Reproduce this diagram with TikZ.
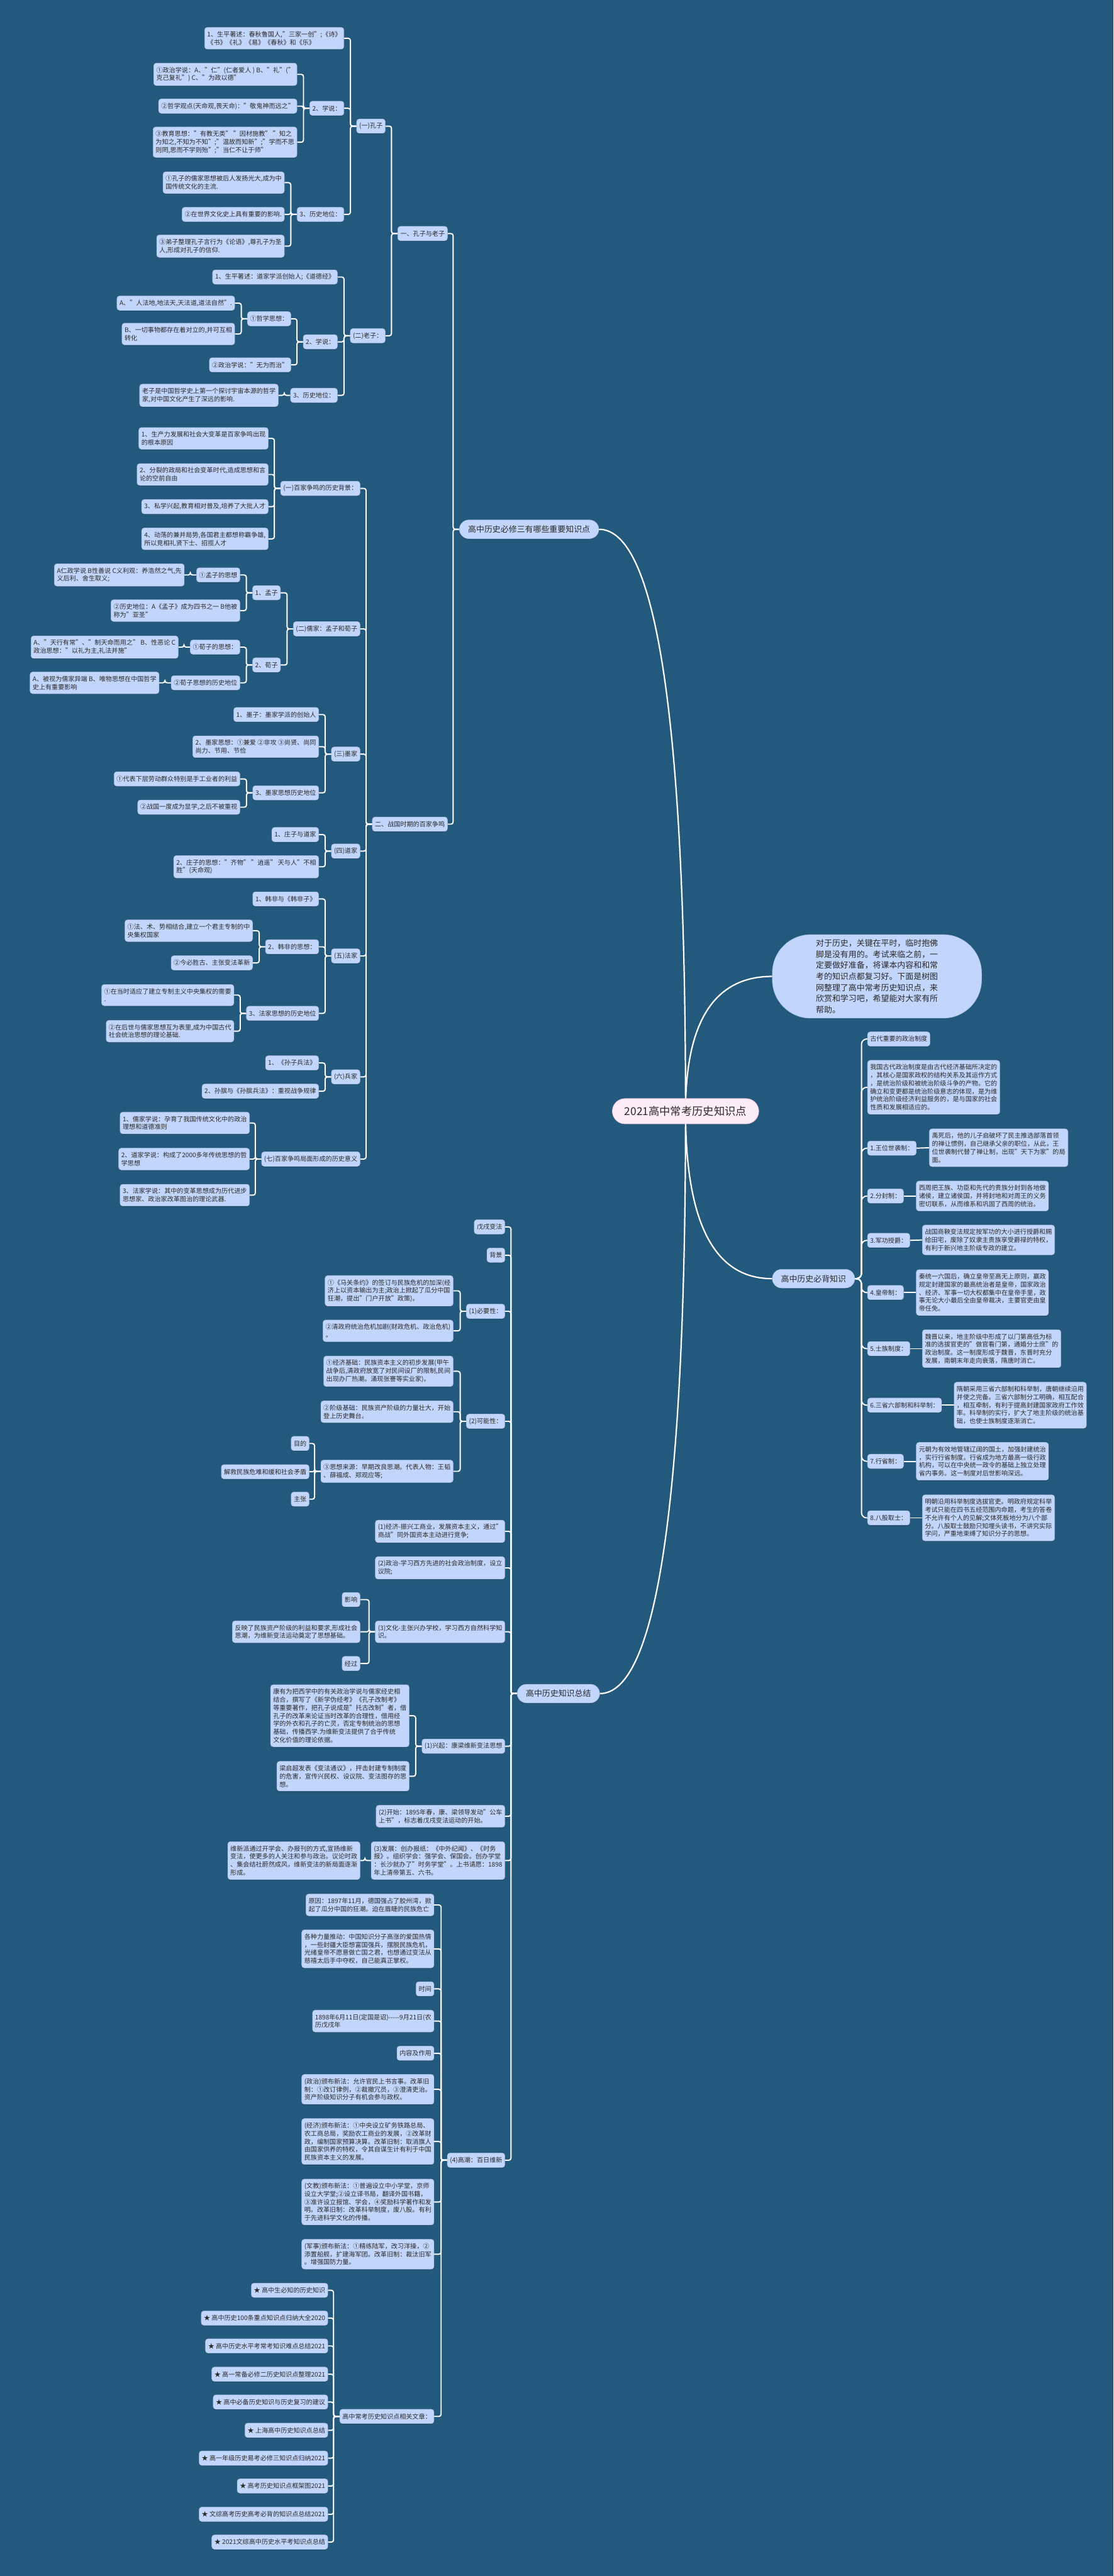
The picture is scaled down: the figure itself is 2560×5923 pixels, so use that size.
\documentclass[tikz,border=0pt]{standalone}
\usepackage{fontspec}
\setmainfont{Noto Sans CJK SC}
\usetikzlibrary{backgrounds,shadows}
\definecolor{bgc}{HTML}{23597C}
\definecolor{nfill}{HTML}{C2D5FB}
\definecolor{nline}{HTML}{A6BEEA}
\definecolor{txt}{HTML}{2A2A2A}
\definecolor{rfill}{HTML}{FDEDF7}
\definecolor{rline}{HTML}{F2C2DD}
\begin{document}
\begin{tikzpicture}[x=0.5pt,y=-0.5pt,
  leaf/.style={draw=nline, line width=0.4pt, fill=nfill, rounded corners=3pt, inner xsep=3pt, inner ysep=4.5pt, minimum height=16.5pt, font=\fontsize{7.3pt}{9.25pt}\selectfont, text=txt, align=left, general shadow={fill=black, opacity=0.22, shadow yshift=-0.8pt}},
  big/.style={draw=nline, line width=0.4pt, fill=nfill, rounded corners=10.75pt, inner xsep=10pt, minimum height=21.5pt, font=\fontsize{9.35pt}{12pt}\selectfont, text=txt, general shadow={fill=black, opacity=0.22, shadow yshift=-0.8pt}},
  conn/.style={draw=white, line width=1.4pt, rounded corners=2.5pt},
  curve/.style={draw=white, line width=1.6pt}
]
\useasboundingbox (0,0) rectangle (2560,5923);
% root
\node[draw=rline, line width=0.6pt, fill=rfill, rounded corners=14.5pt, inner xsep=14pt, minimum height=29pt, font=\fontsize{12.5pt}{14pt}\selectfont, text=txt] (root) at (1576,2555) {2021高中常考历史知识点};
\node[draw=nline, line width=0.4pt, fill=nfill, rounded corners=44pt, minimum width=240.5pt, minimum height=96pt, align=left, font=\fontsize{9.35pt}{12.75pt}\selectfont, text=txt] (bub) at (2016,2245) {对于历史，关键在平时，临时抱佛\\脚是没有用的。考试来临之前，一\\定要做好准备，将课本内容和和常\\考的知识点都复习好。下面是树图\\网整理了高中常考历史知识点，来\\欣赏和学习吧，希望能对大家有所\\帮助。};
\node[big, anchor=east] (m3) at (1377,1217) {高中历史必修三有哪些重要知识点};
\node[big, anchor=east] (zj) at (1379,3894) {高中历史知识总结};
\node[big, anchor=west] (bb) at (1775,2940) {高中历史必背知识};
% ---------- 必修三 ----------
\node[leaf, anchor=east] (a1) at (1029,537) {一、孔子与老子};
\node[leaf, anchor=east] (a2) at (1029,1895) {二、战国时期的百家争鸣};
\node[leaf, anchor=east] (b1) at (886,290) {(一)孔子};
\node[leaf, anchor=east] (b2) at (886,772) {(二)老子：};
\node[leaf, anchor=east] (c1) at (791,88) {1、生平著述：春秋鲁国人,"三家一创";《诗》\\《书》《礼》《易》《春秋》和《乐》};
\node[leaf, anchor=east] (c2) at (791,249) {2、学说：};
\node[leaf, anchor=east] (c3) at (791,493) {3、历史地位：};
\node[leaf, anchor=east] (d1) at (683,171) {①政治学说：A、"仁"(仁者爱人 ) B、"礼"("\\克己复礼") C、"为政以德"};
\node[leaf, anchor=east] (d2) at (683,244) {②哲学观点(天命观,畏天命)："敬鬼神而远之"};
\node[leaf, anchor=east] (d3) at (683,327) {③教育思想："有教无类" "因材施教" "知之\\为知之,不知为不知";"温故而知新";"学而不思\\则罔,思而不学则殆";"当仁不让于师"};
\node[leaf, anchor=east] (e1) at (654,420) {①孔子的儒家思想被后人发扬光大,成为中\\国传统文化的主流.};
\node[leaf, anchor=east] (e2) at (654,493) {②在世界文化史上具有重要的影响.};
\node[leaf, anchor=east] (e3) at (654,566) {③弟子整理孔子言行为《论语》,尊孔子为圣\\人,形成对孔子的信仰.};
\node[leaf, anchor=east] (f1) at (776,637) {1、生平著述：道家学派创始人;《道德经》};
\node[leaf, anchor=east] (f2) at (776,786) {2、学说：};
\node[leaf, anchor=east] (f3) at (776,909) {3、历史地位：};
\node[leaf, anchor=east] (g1) at (669,733) {①哲学思想：};
\node[leaf, anchor=east] (g2) at (669,839) {②政治学说："无为而治"};
\node[leaf, anchor=east] (h1) at (540,697) {A、"人法地,地法天,天法道,道法自然".};
\node[leaf, anchor=east] (h2) at (540,768) {B、一切事物都存在着对立的,并可互相\\转化};
\node[leaf, anchor=east] (i1) at (640,909) {老子是中国哲学史上第一个探讨宇宙本源的哲学\\家,对中国文化产生了深远的影响.};
% 百家争鸣
\node[leaf, anchor=east] (p1) at (828,1123) {(一)百家争鸣的历史背景：};
\node[leaf, anchor=east] (p2) at (828,1446) {(二)儒家：孟子和荀子};
\node[leaf, anchor=east] (p3) at (828,1734) {(三)墨家};
\node[leaf, anchor=east] (p4) at (828,1957) {(四)道家};
\node[leaf, anchor=east] (p5) at (828,2198) {(五)法家};
\node[leaf, anchor=east] (p6) at (828,2476) {(六)兵家};
\node[leaf, anchor=east] (p7) at (828,2665) {(七)百家争鸣局面形成的历史意义};
\node[leaf, anchor=east] (p1a) at (617,1008) {1、生产力发展和社会大变革是百家争鸣出现\\的根本原因};
\node[leaf, anchor=east] (p1b) at (617,1091) {2、分裂的政局和社会变革时代,造成思想和言\\论的空前自由};
\node[leaf, anchor=east] (p1c) at (617,1165) {3、私学兴起,教育相对普及,培养了大批人才};
\node[leaf, anchor=east] (p1d) at (617,1239) {4、动荡的兼并局势,各国君主都想称霸争雄,\\所以竞相礼贤下士、招揽人才};
\node[leaf, anchor=east] (mz) at (645,1363) {1、孟子};
\node[leaf, anchor=east] (xz) at (645,1529) {2、荀子};
\node[leaf, anchor=east] (mz1) at (552,1322) {①孟子的思想};
\node[leaf, anchor=east] (mz2) at (552,1404) {②历史地位：A《孟子》成为四书之一 B他被\\称为"亚圣"};
\node[leaf, anchor=east] (mz1a) at (424,1322) {A仁政学说 B性善说 C义利观：养浩然之气,先\\义后利、舍生取义;};
\node[leaf, anchor=east] (xz1) at (552,1488) {①荀子的思想：};
\node[leaf, anchor=east] (xz2) at (552,1570) {②荀子思想的历史地位};
\node[leaf, anchor=east] (xz1a) at (410,1488) {A、"天行有常"、"制天命而用之" B、性恶论 C\\政治思想："以礼为主,礼法并施"};
\node[leaf, anchor=east] (xz2a) at (366,1570) {A、被视为儒家异端 B、唯物思想在中国哲学\\史上有重要影响};
\node[leaf, anchor=east] (mo1) at (733,1643) {1、墨子：墨家学派的创始人};
\node[leaf, anchor=east] (mo2) at (733,1717) {2、墨家思想：①兼爱 ②非攻 ③尚贤、尚同\\尚力、节用、节俭};
\node[leaf, anchor=east] (mo3) at (733,1823) {3、墨家思想历史地位};
\node[leaf, anchor=east] (mo3a) at (552,1791) {①代表下层劳动群众特别是手工业者的利益};
\node[leaf, anchor=east] (mo3b) at (552,1856) {②战国一度成为显学,之后不被重视};
\node[leaf, anchor=east] (dj1) at (733,1919) {1、庄子与道家};
\node[leaf, anchor=east] (dj2) at (733,1993) {2、庄子的思想："齐物" "逍遥" 天与人"不相\\胜"(天命观)};
\node[leaf, anchor=east] (fj1) at (733,2067) {1、韩非与《韩非子》};
\node[leaf, anchor=east] (fj2) at (733,2177) {2、韩非的思想：};
\node[leaf, anchor=east] (fj3) at (733,2330) {3、法家思想的历史地位};
\node[leaf, anchor=east] (fj2a) at (581,2140) {①法、术、势相结合,建立一个君主专制的中\\央集权国家};
\node[leaf, anchor=east] (fj2b) at (581,2214) {②今必胜古、主张变法革新};
\node[leaf, anchor=east] (fj3a) at (538,2288) {①在当时适应了建立专制主义中央集权的需要\\.};
\node[leaf, anchor=east] (fj3b) at (538,2371) {②在后世与儒家思想互为表里,成为中国古代\\社会统治思想的理论基础.};
\node[leaf, anchor=east] (bj1) at (733,2444) {1、《孙子兵法》};
\node[leaf, anchor=east] (bj2) at (733,2509) {2、孙膑与《孙膑兵法》：重视战争规律};
\node[leaf, anchor=east] (yy1) at (574,2582) {1、儒家学说：孕育了我国传统文化中的政治\\理想和道德准则};
\node[leaf, anchor=east] (yy2) at (574,2665) {2、道家学说：构成了2000多年传统思想的哲\\学思想};
\node[leaf, anchor=east] (yy3) at (574,2748) {3、法家学说：其中的变革思想成为历代进步\\思想家、政治家改革图治的理论武器.};
% ---------- 知识总结 ----------
\node[leaf, anchor=east] (w1) at (1161,2821) {戊戌变法};
\node[leaf, anchor=east] (w2) at (1161,2886) {背景};
\node[leaf, anchor=east] (nec) at (1161,3015) {(1)必要性：};
\node[leaf, anchor=east] (pos) at (1161,3268) {(2)可能性：};
\node[leaf, anchor=east] (jjx) at (1161,3521) {(1)经济-振兴工商业，发展资本主义，通过"\\商战"同外国资本主动进行竞争;};
\node[leaf, anchor=east] (zzx) at (1161,3605) {(2)政治-学习西方先进的社会政治制度，设立\\议院;};
\node[leaf, anchor=east] (whx) at (1161,3752) {(3)文化-主张兴办学校，学习西方自然科学知\\识。};
\node[leaf, anchor=east] (xq) at (1161,4015) {(1)兴起：康梁维新变法思想};
\node[leaf, anchor=east] (ks) at (1161,4176) {(2)开始：1895年春，康、梁领导发动"公车\\上书"，标志着戊戌变法运动的开始。};
\node[leaf, anchor=east] (fz) at (1161,4278) {(3)发展：创办报纸：《中外纪闻》、《时务\\报》。组织学会：强学会、保国会。创办学堂\\：长沙就办了"时务学堂"。上书请愿：1898\\年上清帝第五、六书。};
\node[leaf, anchor=east] (gc) at (1161,4967) {(4)高潮：百日维新};
\node[leaf, anchor=east] (nec1) at (1042,2968) {①《马关条约》的签订与民族危机的加深(经\\济上以资本输出为主;政治上掀起了瓜分中国\\狂潮，提出"门户开放"政策)。};
\node[leaf, anchor=east] (nec2) at (1042,3060) {②清政府统治危机加剧(财政危机、政治危机)\\。};
\node[leaf, anchor=east] (pos1) at (1042,3153) {①经济基础：民族资本主义的初步发展(甲午\\战争后,清政府放宽了对民间设厂的限制,民间\\出现办厂热潮。涌现张謇等实业家)。};
\node[leaf, anchor=east] (pos2) at (1042,3246) {②阶级基础：民族资产阶级的力量壮大，开始\\登上历史舞台。};
\node[leaf, anchor=east] (pos3) at (1042,3383) {③思想来源：早期改良思潮。代表人物：王韬\\、薛福成、郑观应等;};
\node[leaf, anchor=east] (md) at (711,3319) {目的};
\node[leaf, anchor=east] (jj) at (711,3384) {解救民族危难和缓和社会矛盾};
\node[leaf, anchor=east] (zz) at (711,3447) {主张};
\node[leaf, anchor=east] (yx) at (828,3678) {影响};
\node[leaf, anchor=east] (fy) at (828,3752) {反映了民族资产阶级的利益和要求,形成社会\\思潮，为维新变法运动奠定了思想基础。};
\node[leaf, anchor=east] (jg) at (828,3825) {经过};
\node[leaf, anchor=east] (kyw) at (941,3945) {康有为把西学中的有关政治学说与儒家经史相\\结合，撰写了《新学伪经考》《孔子改制考》\\等重要著作，把孔子说成是"托古改制"者，借\\孔子的改革来论证当时改革的合理性，借用经\\学的外衣和孔子的亡灵，否定专制统治的思想\\基础，传播西学.为维新变法提供了合乎传统\\文化价值的理论依据。};
\node[leaf, anchor=east] (lqc) at (941,4084) {梁启超发表《变法通议》，抨击封建专制制度\\的危害，宣传兴民权、设议院、变法图存的思\\想。};
\node[leaf, anchor=east] (wxp) at (828,4278) {维新派通过开学会、办报刊的方式,宣扬维新\\变法，使更多的人关注和参与政治。议论时政\\、集会结社蔚然成风，维新变法的新局面逐渐\\形成。};
\node[leaf, anchor=east] (yy) at (998,4380) {原因：1897年11月，德国强占了胶州湾，掀\\起了瓜分中国的狂潮。迫在眉睫的民族危亡};
\node[leaf, anchor=east] (qy) at (998,4481) {各种力量推动：中国知识分子高涨的爱国热情\\，一些封疆大臣想富国强兵，摆脱民族危机，\\光绪皇帝不愿意做亡国之君，也想通过变法从\\慈禧太后手中夺权，自己能真正掌权。};
\node[leaf, anchor=east] (sj) at (998,4573) {时间};
\node[leaf, anchor=east] (rq) at (998,4647) {1898年6月11日(定国是诏){-}{-}{-}{-}{-}9月21日(农\\历戊戌年};
\node[leaf, anchor=east] (nr) at (998,4721) {内容及作用};
\node[leaf, anchor=east] (zhz) at (998,4804) {(政治)颁布新法：允许官民上书言事。改革旧\\制：①改订律例，②裁撤冗员，③澄清吏治。\\资产阶级知识分子有机会参与政权。};
\node[leaf, anchor=east] (jjf) at (998,4924) {(经济)颁布新法：①中央设立矿务铁路总局、\\农工商总局，奖励农工商业的发展，②改革财\\政，编制国家预算决算。改革旧制：取消旗人\\由国家供养的特权，令其自谋生计有利于中国\\民族资本主义的发展。};
\node[leaf, anchor=east] (wj) at (998,5063) {(文教)颁布新法：①普遍设立中小学堂，京师\\设立大学堂;②设立译书局，翻译外国书籍，\\③准许设立报馆、学会，④奖励科学著作和发\\明。改革旧制：改革科举制度，废八股。有利\\于先进科学文化的传播。};
\node[leaf, anchor=east] (js) at (998,5183) {(军事)颁布新法：①精练陆军，改习洋操，②\\添置船舰，扩建海军团。改革旧制：裁汰旧军\\。增强国防力量。};
\node[leaf, anchor=east] (xg) at (998,5556) {高中常考历史知识点相关文章：};
\node[leaf, anchor=east] (s1) at (754,5266) {★ 高中生必知的历史知识};
\node[leaf, anchor=east] (s2) at (754,5330) {★ 高中历史100条重点知识点归纳大全2020};
\node[leaf, anchor=east] (s3) at (754,5394) {★ 高中历史水平考常考知识难点总结2021};
\node[leaf, anchor=east] (s4) at (754,5459) {★ 高一常备必修二历史知识点整理2021};
\node[leaf, anchor=east] (s5) at (754,5523) {★ 高中必备历史知识与历史复习的建议};
\node[leaf, anchor=east] (s6) at (754,5588) {★ 上海高中历史知识点总结};
\node[leaf, anchor=east] (s7) at (754,5652) {★ 高一年级历史易考必修三知识点归纳2021};
\node[leaf, anchor=east] (s8) at (754,5716) {★ 高考历史知识点框架图2021};
\node[leaf, anchor=east] (s9) at (754,5781) {★ 文综高考历史高考必背的知识点总结2021};
\node[leaf, anchor=east] (s10) at (754,5845) {★ 2021文综高中历史水平考知识点总结};
% ---------- 必背知识 ----------
\node[leaf, anchor=west] (r0) at (1994,2389) {古代重要的政治制度};
\node[leaf, anchor=west] (r00) at (1994,2500) {我国古代政治制度是由古代经济基础所决定的\\，其核心是国家政权的结构关系及其运作方式\\，是统治阶级和被统治阶级斗争的产物。它的\\确立和变更都是统治阶级意志的体现，是为维\\护统治阶级经济利益服务的，是与国家的社会\\性质和发展相适应的。};
\node[leaf, anchor=west] (r1) at (1994,2640) {1.王位世袭制：};
\node[leaf, anchor=west] (r2) at (1994,2750) {2.分封制：};
\node[leaf, anchor=west] (r3) at (1994,2852) {3.军功授爵：};
\node[leaf, anchor=west] (r4) at (1994,2972) {4.皇帝制：};
\node[leaf, anchor=west] (r5) at (1994,3101) {5.士族制度：};
\node[leaf, anchor=west] (r6) at (1994,3231) {6.三省六部制和科举制：};
\node[leaf, anchor=west] (r7) at (1994,3360) {7.行省制：};
\node[leaf, anchor=west] (r8) at (1994,3490) {8.八股取士：};
\node[leaf, anchor=west] (t1) at (2136,2639) {禹死后，他的儿子启破坏了民主推选部落首领\\的禅让惯例，自己继承父亲的职位，从此，王\\位世袭制代替了禅让制，出现"天下为家"的局\\面。};
\node[leaf, anchor=west] (t2) at (2106,2750) {西周把王族、功臣和先代的贵族分封到各地做\\诸侯，建立诸侯国，并将封地和对周王的义务\\密切联系，从而维系和巩固了西周的统治。};
\node[leaf, anchor=west] (t3) at (2120,2851) {战国商鞅变法规定按军功的大小进行授爵和赐\\给田宅，废除了奴隶主贵族享受爵禄的特权，\\有利于新兴地主阶级专政的建立。};
\node[leaf, anchor=west] (t4) at (2106,2972) {秦统一六国后，确立皇帝至高无上原则，嬴政\\规定封建国家的最高统治者是皇帝，国家政治\\、经济、军事一切大权都集中在皇帝手里，政\\事无论大小最后全由皇帝裁决，主要官吏由皇\\帝任免。};
\node[leaf, anchor=west] (t5) at (2120,3101) {魏晋以来，地主阶级中形成了以门第高低为标\\准的选拔官吏的"做官看门第，通婚分士庶"的\\政治制度。这一制度形成于魏晋，东晋时充分\\发展，南朝末年走向衰落，隋唐时消亡。};
\node[leaf, anchor=west] (t6) at (2193,3231) {隋朝采用三省六部制和科举制，唐朝继续沿用\\并使之完备。三省六部制分工明确，相互配合\\，相互牵制，有利于提高封建国家政府工作效\\率。科举制的实行，扩大了地主阶级的统治基\\础，也使士族制度逐渐消亡。};
\node[leaf, anchor=west] (t7) at (2106,3360) {元朝为有效地管辖辽阔的国土，加强封建统治\\，实行行省制度。行省成为地方最高一级行政\\机构，可以在中央统一政令的基础上独立处理\\省内事务。这一制度对后世影响深远。};
\node[leaf, anchor=west] (t8) at (2120,3490) {明朝沿用科举制度选拔官吏。明政府规定科举\\考试只能在四书五经范围内命题，考生的答卷\\不允许有个人的见解;文体死板地分为八个部\\分。八股取士鼓励只知埋头读书，不讲究实际\\学问，严重地束缚了知识分子的思想。};
% ---------- connectors ----------
\begin{scope}[on background layer]
\fill[bgc] (0,0) rectangle (2560,5923);
\draw[curve] (root.center) .. controls (1576,1663) and (1510,1217) .. (m3.east);
\draw[curve] (root.center) .. controls (1576,3448) and (1510,3894) .. (zj.east);
\draw[curve] (root.center) .. controls (1576,2348) and (1643,2245) .. (bub.west);
\draw[curve] (root.center) .. controls (1576,2812) and (1642,2940) .. (bb.west);
\foreach \p/\c in {m3/a1,m3/a2,a1/b1,a1/b2,b1/c1,b1/c2,b1/c3,c2/d1,c2/d2,c2/d3,c3/e1,c3/e2,c3/e3,b2/f1,b2/f2,b2/f3,f2/g1,f2/g2,g1/h1,g1/h2,f3/i1,
  a2/p1,a2/p2,a2/p3,a2/p4,a2/p5,a2/p6,a2/p7,p1/p1a,p1/p1b,p1/p1c,p1/p1d,p2/mz,p2/xz,mz/mz1,mz/mz2,mz1/mz1a,xz/xz1,xz/xz2,xz1/xz1a,xz2/xz2a,
  p3/mo1,p3/mo2,p3/mo3,mo3/mo3a,mo3/mo3b,p4/dj1,p4/dj2,p5/fj1,p5/fj2,p5/fj3,fj2/fj2a,fj2/fj2b,fj3/fj3a,fj3/fj3b,p6/bj1,p6/bj2,p7/yy1,p7/yy2,p7/yy3,
  zj/w1,zj/w2,zj/nec,zj/pos,zj/jjx,zj/zzx,zj/whx,zj/xq,zj/ks,zj/fz,zj/gc,nec/nec1,nec/nec2,pos/pos1,pos/pos2,pos/pos3,pos3/md,pos3/jj,pos3/zz,
  whx/yx,whx/fy,whx/jg,xq/kyw,xq/lqc,fz/wxp,gc/yy,gc/qy,gc/sj,gc/rq,gc/nr,gc/zhz,gc/jjf,gc/wj,gc/js,gc/xg,
  xg/s1,xg/s2,xg/s3,xg/s4,xg/s5,xg/s6,xg/s7,xg/s8,xg/s9,xg/s10}
  \draw[conn] (\p.west) -- ++(-14,0) |- (\c.east);
\foreach \c in {r0,r00,r1,r2,r3,r4,r5,r6,r7,r8}
  \draw[conn, rounded corners=6pt] (bb.east) -- ++(15,0) |- (\c.west);
\foreach \a/\b in {r1/t1,r2/t2,r3/t3,r4/t4,r5/t5,r6/t6,r7/t7,r8/t8}
  \draw[conn] (\a.east) -- (\b.west);
\end{scope}
\end{tikzpicture}
\end{document}
